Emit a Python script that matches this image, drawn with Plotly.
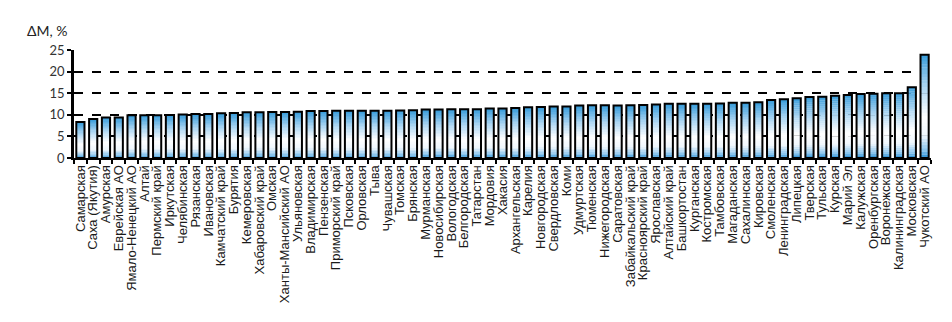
import plotly.graph_objects as go

regions = [
    "Самарская", "Саха (Якутия)", "Амурская", "Еврейская АО", "Ямало-Ненецкий АО",
    "Алтай", "Пермский край", "Иркутская", "Челябинская", "Рязанская",
    "Ивановская", "Камчатский край", "Бурятия", "Кемеровская", "Хабаровский край",
    "Омская", "Ханты-Мансийский АО", "Ульяновская", "Владимирская", "Пензенская",
    "Приморский край", "Псковская", "Орловская", "Тыва", "Чувашская",
    "Томская", "Брянская", "Мурманская", "Новосибирская", "Вологодская",
    "Белгородская", "Татарстан", "Мордовия", "Хакасия", "Архангельская",
    "Карелия", "Новгородская", "Свердловская", "Коми", "Удмуртская",
    "Тюменская", "Нижегородская", "Саратовская", "Забайкальский край", "Красноярский край",
    "Ярославская", "Алтайский край", "Башкортостан", "Курганская", "Костромская",
    "Тамбовская", "Магаданская", "Сахалинская", "Кировская", "Смоленская",
    "Ленинградская", "Липецкая", "Тверская", "Тульская", "Курская",
    "Марий Эл", "Калужская", "Оренбургская", "Воронежская", "Калининградская",
    "Московская", "Чукотский АО",
]

delta_m = [
    8.35, 9.05, 9.4, 9.4, 9.9,
    9.9, 9.9, 9.95, 10.05, 10.2,
    10.2, 10.35, 10.4, 10.6, 10.6,
    10.65, 10.65, 10.7, 10.9, 10.9,
    10.95, 10.95, 10.95, 10.95, 10.95,
    11.0, 11.05, 11.2, 11.2, 11.3,
    11.3, 11.3, 11.45, 11.45, 11.6,
    11.75, 11.8, 11.9, 11.9, 12.15,
    12.2, 12.2, 12.15, 12.2, 12.25,
    12.4, 12.55, 12.55, 12.55, 12.55,
    12.6, 12.8, 12.8, 12.9, 13.4,
    13.6, 13.85, 14.1, 14.2, 14.4,
    14.6, 14.8, 14.85, 15.0, 15.0,
    16.4, 23.9,
]

y_ticks = [0, 5, 10, 15, 20, 25]

# vertical gradient stops (fraction of bar height from bottom, colour)
grad_stops = [
    (0.00, (40, 142, 212)),
    (0.08, (140, 198, 238)),
    (0.22, (240, 247, 253)),
    (0.40, (255, 255, 255)),
    (0.68, (175, 215, 243)),
    (1.00, (56, 156, 218)),
]
N_SEG = 32


def color_at(f):
    for (f0, c0), (f1, c1) in zip(grad_stops[:-1], grad_stops[1:]):
        if f0 <= f <= f1:
            t = (f - f0) / (f1 - f0)
            return "rgb(%d,%d,%d)" % tuple(round(a + (b - a) * t) for a, b in zip(c0, c1))
    return "rgb(%d,%d,%d)" % grad_stops[-1][1]


BAR_W = 0.64
fig = go.Figure()
for k in range(N_SEG):
    f0 = k / N_SEG
    df = 1.0 / N_SEG
    fig.add_trace(go.Bar(
        x=regions,
        y=[v * df * 1.08 if k < N_SEG - 1 else v * df for v in delta_m],
        base=[v * f0 for v in delta_m],
        width=BAR_W,
        marker=dict(color=color_at(f0 + df / 2), line=dict(width=0)),
        showlegend=False,
        hoverinfo="skip",
    ))

fig.add_trace(go.Bar(
    x=regions,
    y=delta_m,
    width=BAR_W,
    marker=dict(color="rgba(0,0,0,0)", line=dict(color="black", width=2)),
    showlegend=False,
))

fig.update_layout(
    width=952,
    height=322,
    margin=dict(l=74, r=21, t=50, b=164),
    paper_bgcolor="white",
    plot_bgcolor="white",
    barmode="overlay",
    font=dict(family="Liberation Sans, Arial, sans-serif", color="#222"),
    xaxis=dict(
        type="category",
        tickangle=-90,
        tickmode="array",
        tickvals=regions,
        ticktext=regions,
        tickfont=dict(size=13, color="#1a1a1a"),
        ticks="outside",
        tickson="boundaries",
        ticklen=4,
        tickwidth=1.5,
        tickcolor="black",
        showline=True,
        linecolor="black",
        linewidth=2,
        showgrid=False,
        automargin=False,
        range=[-0.5, len(regions) - 0.5],
    ),
    yaxis=dict(
        range=[0, 25],
        tickvals=y_ticks,
        tickfont=dict(family="Lato, Liberation Sans, sans-serif", size=13, color="#333"),
        ticks="outside",
        ticklen=4,
        tickwidth=2,
        tickcolor="black",
        showline=True,
        linecolor="black",
        linewidth=2.5,
        showgrid=True,
        gridcolor="black",
        gridwidth=2,
        griddash="dash",
        zeroline=False,
        automargin=False,
    ),
    annotations=[dict(
        text="ΔM, %",
        xref="paper", yref="paper",
        x=-0.057, y=1.185,
        xanchor="left", yanchor="middle",
        showarrow=False,
        font=dict(family="Lato, Liberation Sans, sans-serif", size=14, color="#222"),
    )],
)

fig.write_html("out.html")
